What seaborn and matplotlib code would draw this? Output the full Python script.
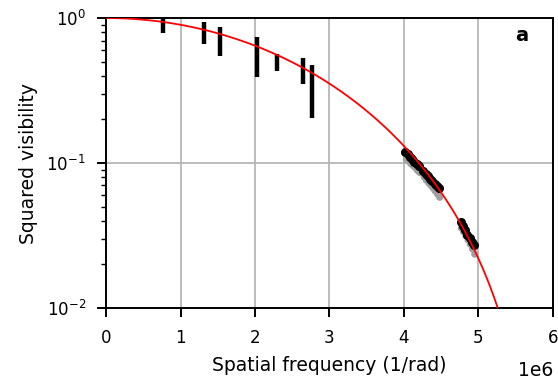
import numpy as np
import pandas as pd
import matplotlib
matplotlib.use("Agg")
import matplotlib.pyplot as plt
from matplotlib.ticker import LogLocator, FuncFormatter, NullFormatter
import seaborn as sns

# ---- data ----
# isolated baselines (black error bars)
q_low = [0.77e6, 1.32e6, 1.53e6, 2.03e6, 2.29e6, 2.65e6, 2.76e6]
v2_low = [0.93, 0.80, 0.71, 0.565, 0.50, 0.44, 0.34]
e_low = [0.14, 0.135, 0.16, 0.17, 0.066, 0.087, 0.135]

# dense clusters (black points)
q_hi = [4.02e6, 4.05e6, 4.08e6, 4.11e6, 4.14e6, 4.17e6, 4.20e6,
        4.26e6, 4.29e6, 4.32e6, 4.35e6, 4.38e6, 4.41e6, 4.44e6, 4.47e6,
        4.76e6, 4.79e6, 4.82e6, 4.85e6, 4.88e6, 4.91e6, 4.94e6]
v2_hi = [0.119, 0.116, 0.110, 0.107, 0.102, 0.098, 0.095,
         0.088, 0.084, 0.081, 0.078, 0.075, 0.072, 0.069, 0.067,
         0.039, 0.0365, 0.0345, 0.032, 0.0305, 0.0285, 0.027]
e_hi = [0.004, 0.004, 0.004, 0.004, 0.004, 0.004, 0.004,
        0.003, 0.003, 0.003, 0.003, 0.003, 0.003, 0.003, 0.003,
        0.0015, 0.0015, 0.0015, 0.0015, 0.0015, 0.0015, 0.0015]

# grey points (second data set, slightly lower)
q_grey = [4.03e6, 4.06e6, 4.09e6, 4.12e6, 4.15e6, 4.18e6, 4.21e6,
          4.27e6, 4.30e6, 4.33e6, 4.36e6, 4.39e6, 4.42e6, 4.45e6, 4.48e6,
          4.77e6, 4.80e6, 4.83e6, 4.86e6, 4.89e6, 4.92e6, 4.95e6]
v2_grey = [0.106, 0.103, 0.099, 0.096, 0.093, 0.089, 0.086,
           0.080, 0.076, 0.073, 0.070, 0.067, 0.064, 0.061, 0.058,
           0.0355, 0.0335, 0.0315, 0.0295, 0.0275, 0.0255, 0.0235]

x_ticks = [0, 1, 2, 3, 4, 5, 6]
x_scale_label = "1e6"

# uniform-disk model diameter (rad)
theta_ud = 2.07e-7


def j1(x):
    tau = np.linspace(0, np.pi, 400)
    x = np.atleast_1d(x)[:, None]
    return np.trapezoid(np.cos(tau - x * np.sin(tau)), tau, axis=1) / np.pi


q_model = np.linspace(1.0, 6e6, 600)
arg = np.pi * theta_ud * q_model
v2_model = (2 * j1(arg) / arg) ** 2

sns.set_style("ticks")
plt.rcParams["font.family"] = ["DejaVu Sans"]
plt.rcParams["text.color"] = "black"
plt.rcParams["axes.labelcolor"] = "black"

fig = plt.figure(figsize=(5.58, 3.84), dpi=100)
ax = fig.add_axes([0.19, 0.198, 0.801, 0.755])

sns.scatterplot(x=q_grey, y=v2_grey, ax=ax, color="#a0a0a0", s=26,
                edgecolor="none", zorder=2)
ax.errorbar(q_hi, v2_hi, yerr=e_hi, fmt="o", color="black", ms=5.5,
            elinewidth=3, capsize=0, zorder=3)
ax.errorbar(q_low, v2_low, yerr=e_low, fmt="none", ecolor="black",
            elinewidth=3.2, capsize=0, zorder=3)
sns.lineplot(x=q_model, y=v2_model, ax=ax, color="red", lw=1.3, zorder=4)

ax.set_yscale("log")
ax.set_xlim(0, 6e6)
ax.set_ylim(1e-2, 1.0)
ax.set_xticks([t * 1e6 for t in x_ticks])
ax.xaxis.set_major_formatter(FuncFormatter(lambda v, p: f"{v / 1e6:.0f}"))
ax.yaxis.set_minor_locator(LogLocator(base=10, subs=np.arange(2, 10)))
ax.yaxis.set_minor_formatter(NullFormatter())
ax.grid(True, which="major", color="#b0b0b0", lw=1.2)
ax.set_axisbelow(True)
for s in ax.spines.values():
    s.set_visible(True)
    s.set_linewidth(1.4)
    s.set_color("black")
ax.tick_params(which="major", labelsize=12, width=1.4, length=6.5,
               direction="out", colors="black")
ax.tick_params(axis="x", which="major", pad=9)
ax.tick_params(axis="y", which="major", pad=8)
ax.tick_params(which="minor", width=1.0, length=3.5, direction="out",
               colors="black")
ax.set_xlabel("Spatial frequency (1/rad)", fontsize=13.5, labelpad=6)
ax.set_ylabel("Squared visibility", fontsize=13.5, labelpad=6)
ax.text(1.0, -0.215, x_scale_label, transform=ax.transAxes, fontsize=13.5,
        ha="right", va="center")
ax.text(0.93, 0.94, "a", transform=ax.transAxes, fontsize=14,
        fontweight="bold", ha="center", va="center")

fig.savefig("out.png", dpi=100)
